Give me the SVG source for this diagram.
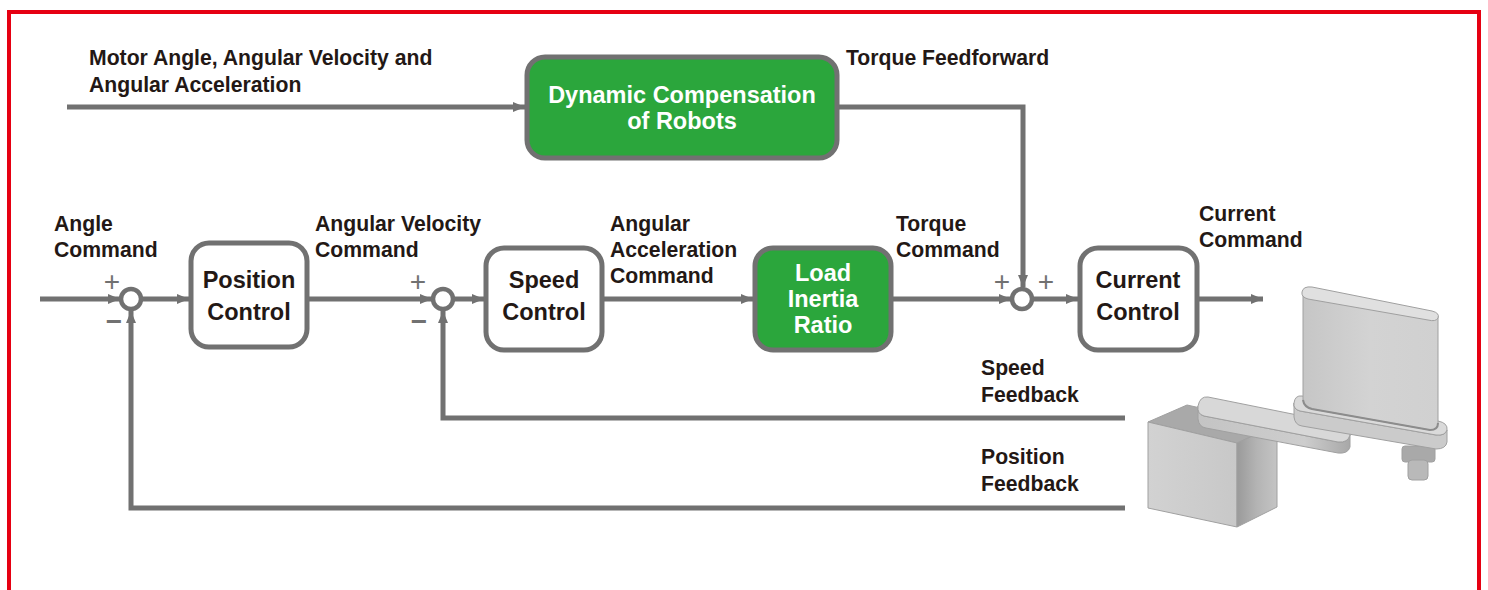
<svg xmlns="http://www.w3.org/2000/svg" width="1488" height="590" viewBox="0 0 1488 590">
<style>
.lbl{font-family:"Liberation Sans",Arial,sans-serif;font-weight:bold;font-size:21.2px;fill:#231815}
.bt{font-family:"Liberation Sans",Arial,sans-serif;font-weight:bold;font-size:23.5px;text-anchor:middle}
.dark{fill:#231815}
.light{fill:#ffffff}
.box{fill:#ffffff;stroke:#717171;stroke-width:5}
.gbox{fill:#2ba63c;stroke:#717171;stroke-width:5}
.arr{fill:none;stroke:#717171;stroke-width:5;marker-end:url(#ah)}
.sum{fill:#ffffff;stroke:#717171;stroke-width:4.5}
.sign{font-family:"Liberation Sans",Arial,sans-serif;font-size:28px;fill:#717171;text-anchor:middle}
.minus{font-weight:bold}
.edge{stroke:#a0a0a0;stroke-width:1}
</style>
<defs>
<marker id="ah" markerUnits="userSpaceOnUse" markerWidth="14" markerHeight="12" refX="12" refY="5" orient="auto">
<path d="M0,0 L12,5 L0,10 Z" fill="#717171"/>
</marker>
<linearGradient id="colG" x1="0" y1="0" x2="1" y2="0">
<stop offset="0" stop-color="#c6c6c6"/>
<stop offset="0.5" stop-color="#d3d3d3"/>
<stop offset="1" stop-color="#d0d0d0"/>
</linearGradient>
<linearGradient id="baseF" x1="0" y1="0" x2="1" y2="0">
<stop offset="0" stop-color="#d2d2d2"/>
<stop offset="1" stop-color="#c8c8c8"/>
</linearGradient>
<linearGradient id="baseS" x1="0" y1="0" x2="1" y2="0">
<stop offset="0" stop-color="#9a9a9a"/>
<stop offset="0.5" stop-color="#b4b4b4"/>
<stop offset="1" stop-color="#c4c4c4"/>
</linearGradient>
<linearGradient id="armS" x1="0" y1="0" x2="1" y2="0">
<stop offset="0" stop-color="#c4c4c4"/>
<stop offset="0.7" stop-color="#cdcdcd"/>
<stop offset="1" stop-color="#a8a8a8"/>
</linearGradient>
</defs>

<rect x="9" y="12" width="1470" height="600" fill="none" stroke="#e60012" stroke-width="4"/>

<g id="connectors">
<path class="arr" d="M67,107 H525"/>
<path class="arr" d="M837,107 H1023 V287"/>
<path class="arr" d="M40,299 H120"/>
<path class="arr" d="M141,299 H189"/>
<path class="arr" d="M307,299 H432"/>
<path class="arr" d="M454,299 H484"/>
<path class="arr" d="M602,299 H753"/>
<path class="arr" d="M891,299 H1011"/>
<path class="arr" d="M1033,299 H1078"/>
<path class="arr" d="M1197,299 H1263"/>
<path class="arr" d="M1125,418 H443 V311"/>
<path class="arr" d="M1125,508 H131 V311"/>
</g>

<g id="labels">
<text class="lbl" x="89" y="65">Motor Angle, Angular Velocity and</text>
<text class="lbl" x="89" y="92">Angular Acceleration</text>
<text class="lbl" x="846" y="65">Torque Feedforward</text>
<text class="lbl" x="54" y="231">Angle</text>
<text class="lbl" x="54" y="257">Command</text>
<text class="lbl" x="315" y="231">Angular Velocity</text>
<text class="lbl" x="315" y="257">Command</text>
<text class="lbl" x="610" y="231">Angular</text>
<text class="lbl" x="610" y="257">Acceleration</text>
<text class="lbl" x="610" y="283">Command</text>
<text class="lbl" x="896" y="231">Torque</text>
<text class="lbl" x="896" y="257">Command</text>
<text class="lbl" x="1199" y="221">Current</text>
<text class="lbl" x="1199" y="247">Command</text>
<text class="lbl" x="981" y="375">Speed</text>
<text class="lbl" x="981" y="402">Feedback</text>
<text class="lbl" x="981" y="464">Position</text>
<text class="lbl" x="981" y="491">Feedback</text>
</g>

<g id="sum1">
<circle class="sum" cx="131" cy="299" r="10"/>
<text class="sign" x="112" y="291">+</text>
<text class="sign minus" x="114" y="331">−</text>
</g>
<g id="sum2">
<circle class="sum" cx="443" cy="299" r="10"/>
<text class="sign" x="418" y="291">+</text>
<text class="sign minus" x="419" y="331">−</text>
</g>
<g id="sum3">
<circle class="sum" cx="1022" cy="299" r="10"/>
<text class="sign" x="1002" y="291">+</text>
<text class="sign" x="1046" y="291">+</text>
</g>

<g id="dynamic">
<rect class="gbox" x="527" y="57" width="310" height="101" rx="18"/>
<text class="bt light" x="682" y="103">Dynamic Compensation</text>
<text class="bt light" x="682" y="129">of Robots</text>
</g>
<g id="position">
<rect class="box" x="191" y="243" width="116" height="104" rx="18"/>
<text class="bt dark" x="249" y="288">Position</text>
<text class="bt dark" x="249" y="320">Control</text>
</g>
<g id="speed">
<rect class="box" x="486" y="248" width="116" height="102" rx="18"/>
<text class="bt dark" x="544" y="288">Speed</text>
<text class="bt dark" x="544" y="320">Control</text>
</g>
<g id="inertia">
<rect class="gbox" x="755" y="248" width="136" height="102" rx="18"/>
<text class="bt light" x="823" y="281">Load</text>
<text class="bt light" x="823" y="307">Inertia</text>
<text class="bt light" x="823" y="333">Ratio</text>
</g>
<g id="current">
<rect class="box" x="1080" y="248" width="117" height="102" rx="18"/>
<text class="bt dark" x="1138" y="288">Current</text>
<text class="bt dark" x="1138" y="320">Control</text>
</g>

<g id="robot">
<path d="M1148,422 L1187,405 L1277,425 L1237,443 Z" fill="#a9a9a9" class="edge"/>
<path d="M1148,422 L1237,443 L1237,527 L1148,508 Z" fill="url(#baseF)" class="edge"/>
<path d="M1237,443 L1277,425 L1277,507 L1237,527 Z" fill="url(#baseS)" class="edge"/>
<rect x="1402" y="446" width="33" height="16" rx="3" fill="#a9a9a9" class="edge"/>
<rect x="1408" y="460" width="20" height="20" rx="4" fill="#b9b9b9" class="edge"/>
<path d="M1198,406 L1198,419 Q1199,427 1206,428 L1338,453 Q1348,454 1350,447 L1350,435 Q1348,443 1338,442 L1204,416 Q1197,414 1198,406 Z" fill="url(#armS)" class="edge"/>
<path d="M1208,397 L1342,424 Q1352,427 1350,435 Q1348,443 1338,442 L1204,416 Q1197,414 1198,406 Q1200,396 1208,397 Z" fill="#d8d8d8" class="edge"/>
<path d="M1294,403 L1294,417 Q1295,425 1302,426 L1436,449 Q1446,449 1447,442 L1447,430 Q1445,436 1436,435 L1300,411 Q1293,409 1294,403 Z" fill="#cbcbcb" class="edge"/>
<path d="M1302,396 L1438,421 Q1448,423 1447,430 Q1445,436 1436,435 L1300,411 Q1293,409 1294,403 Q1295,395 1302,396 Z" fill="#dadada" class="edge"/>
<path d="M1303,292 L1303,400 Q1304,407 1312,409 L1430,430 Q1438,430 1438,423 L1438,316 Z" fill="url(#colG)" class="edge"/>
<path d="M1303,400 Q1304,407 1312,409 L1430,430 Q1438,430 1438,423" fill="none" stroke="#8c8c8c" stroke-width="2"/>
<path d="M1312,287 L1432,311 Q1440,313 1438,318 Q1436,322 1428,320 L1308,299 Q1301,297 1302,292 Q1303,286 1312,287 Z" fill="#e0e0e0" class="edge"/>
</g>
</svg>
